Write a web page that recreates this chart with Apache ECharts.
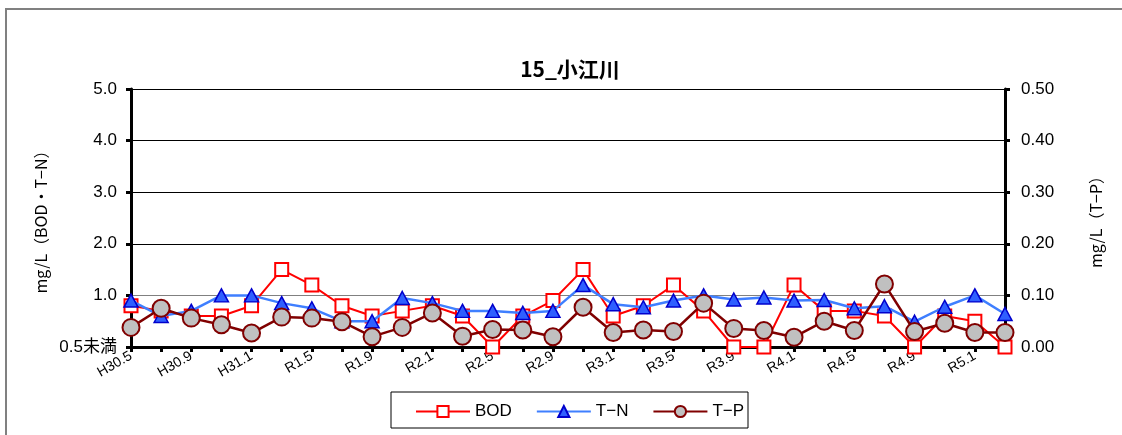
<!DOCTYPE html>
<html><head><meta charset="utf-8">
<script src="https://cdn.jsdelivr.net/npm/echarts@6/dist/echarts.min.js"></script>
<style>html,body{margin:0;padding:0;background:#fff}#c{width:1122px;height:435px}</style>
</head><body><div id="c"></div>
<script>
const categories = ['H30.5','H30.7','H30.9','H30.11','H31.1','H31.3','R1.5','R1.7','R1.9','R1.11','R2.1','R2.3','R2.5','R2.7','R2.9','R2.11','R3.1','R3.3','R3.5','R3.7','R3.9','R3.11','R4.1','R4.3','R4.5','R4.7','R4.9','R4.11','R5.1','R5.3'];
const bod = [0.8,0.7,0.6,0.6,0.8,1.5,1.2,0.8,0.6,0.7,0.8,0.6,0,0.6,0.9,1.5,0.6,0.8,1.2,0.7,0,0,1.2,0.7,0.7,0.6,0,0.6,0.5,0];
const tn = [0.9,0.6,0.7,1.0,1.0,0.85,0.75,0.5,0.5,0.95,0.85,0.7,0.7,0.66,0.7,1.2,0.83,0.77,0.9,1.0,0.92,0.96,0.9,0.91,0.75,0.79,0.49,0.78,1.0,0.64];
const tp = [0.038,0.075,0.056,0.043,0.027,0.058,0.056,0.049,0.02,0.038,0.066,0.021,0.034,0.033,0.02,0.077,0.028,0.033,0.03,0.085,0.036,0.032,0.019,0.05,0.032,0.122,0.03,0.046,0.028,0.028];
const leftTicks = {0:'0.5未満',1:'1.0',2:'2.0',3:'3.0',4:'4.0',5:'5.0'};

const font = "'Liberation Sans', Arial, 'Noto Sans CJK JP', sans-serif";
const chart = echarts.init(document.getElementById('c'), null, {renderer:'canvas'});
chart.setOption({
  animation:false,
  textStyle:{fontFamily:font},
  title:{text:'15_小江川', left:565, top:54, textAlign:'center',
    textStyle:{fontSize:21, fontWeight:'bold', color:'#000', fontFamily:"'Noto Sans CJK JP', sans-serif"}},
  graphic:[{type:'rect', shape:{x:6,y:9,width:1140,height:450}, style:{fill:'none', stroke:'#808080', lineWidth:2}, z:-10},
    {type:'rect', shape:{x:391,y:392,width:357,height:36}, style:{fill:'#fff', stroke:'#000', lineWidth:1}, z:-5}],
  legend:{left:410, top:398, itemGap:24, itemWidth:54, itemHeight:14,
    textStyle:{fontSize:17, color:'#000', fontFamily:font},
    data:['BOD','T−N','T−P']},
  grid:{left:131, right:117, top:89, bottom:88, containLabel:false},
  xAxis:{type:'category', data:categories, boundaryGap:false,
    axisLine:{lineStyle:{color:'#000', width:3}},
    axisTick:{show:true, interval:0, length:5, lineStyle:{color:'#000', width:3}},
    axisLabel:{interval:1, rotate:30, fontSize:14, color:'#000', margin:8, fontFamily:font},
    splitLine:{show:false}},
  yAxis:[{type:'value', min:0, max:5, interval:1, position:'left',
      name:'mg/L（BOD・T−N）', nameLocation:'middle', nameGap:80, nameRotate:90,
      nameTextStyle:{fontSize:16, color:'#000', fontFamily:"'Noto Sans CJK JP', sans-serif"},
      axisLine:{show:true, lineStyle:{color:'#000', width:3}},
      axisTick:{show:true, length:5, lineStyle:{color:'#000', width:3}},
      axisLabel:{fontSize:17, color:'#000', margin:14, formatter:v=>leftTicks[v]!==undefined?leftTicks[v]:v.toFixed(1)},
      splitLine:{show:true, lineStyle:{color:['#000','#808080','#000','#000','#000','#000'], width:1}}},
    {type:'value', min:0, max:0.5, interval:0.1, position:'right',
      name:'mg/L（T−P）', nameLocation:'middle', nameGap:83, nameRotate:90,
      nameTextStyle:{fontSize:16, color:'#000', fontFamily:"'Noto Sans CJK JP', sans-serif"},
      axisLine:{show:true, lineStyle:{color:'#000', width:3}},
      axisTick:{show:true, length:5, lineStyle:{color:'#000', width:3}},
      axisLabel:{fontSize:17, color:'#000', margin:16, formatter:v=>v.toFixed(2)},
      splitLine:{show:false}}],
  series:[
    {name:'BOD', type:'line', yAxisIndex:0, data:bod, symbol:'rect', symbolSize:13,
      lineStyle:{color:'#ff0000', width:2}, itemStyle:{color:'#fff', borderColor:'#ff0000', borderWidth:2}, z:3},
    {name:'T−N', type:'line', yAxisIndex:0, data:tn, symbol:'triangle', symbolSize:[14,13],
      lineStyle:{color:'#3f7fff', width:2.5}, itemStyle:{color:'#2f5fff', borderColor:'#0000cc', borderWidth:1.5}, z:4},
    {name:'T−P', type:'line', yAxisIndex:1, data:tp, symbol:'circle', symbolSize:17,
      lineStyle:{color:'#800000', width:2.5}, itemStyle:{color:'#c0c0c0', borderColor:'#800000', borderWidth:2}, z:5}
  ]
});
</script></body></html>
